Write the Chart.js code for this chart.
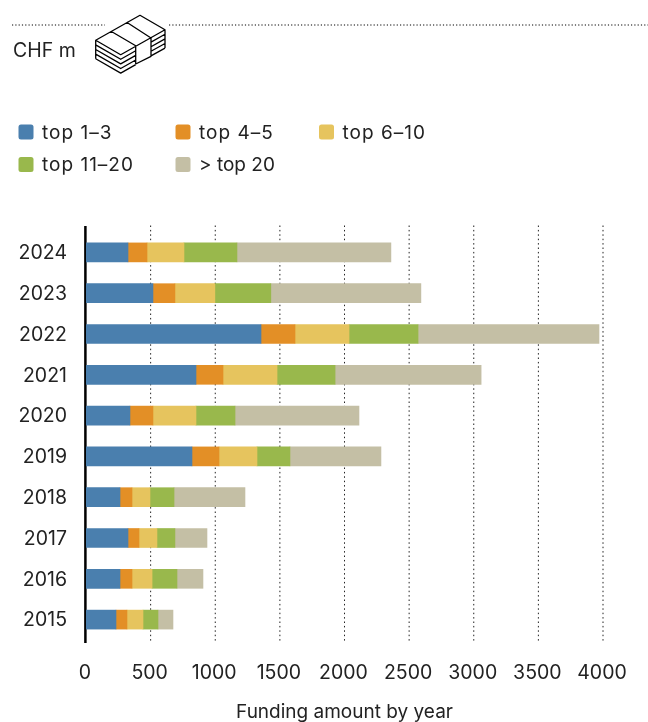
<!DOCTYPE html>
<html>
<head>
<meta charset="utf-8">
<title>Funding amount by year</title>
<script src="https://cdn.jsdelivr.net/npm/chart.js@4/dist/chart.umd.min.js"></script>
<style>
    html, body { margin: 0; padding: 0; background: #fff; }
    canvas { display: block; }
</style>
</head>
<body>
<canvas id="fundingChart" width="648" height="722"></canvas>
<script>
const years = ['2024', '2023', '2022', '2021', '2020', '2019', '2018', '2017', '2016', '2015'];
const top1to3 = [325, 518, 1354, 851, 340, 820, 263, 325, 263, 232];
const top4to5 = [147, 170, 263, 209, 178, 209, 93, 85, 93, 85];
const top6to10 = [286, 309, 418, 418, 333, 294, 139, 139, 155, 124];
const top11to20 = [410, 433, 534, 449, 302, 255, 186, 139, 193, 116];
const overTop20 = [1191, 1161, 1400, 1130, 959, 704, 549, 248, 201, 116];

const seriesNames = ['top 1–3', 'top 4–5', 'top 6–10', 'top 11–20', '> top 20'];
const seriesColors = ['#4a7fae', '#e38f26', '#e6c45e', '#99b84c', '#c4bfa5'];

const unitLabel = 'CHF m';
const axisTitle = 'Funding amount by year';

const textColor = '#222222';
const fontFamily = 'Inter, sans-serif';

const allSeries = [top1to3, top4to5, top6to10, top11to20, overTop20];

// Titre, légende et icône sont dessinés à la main : la légende native n'aligne pas les colonnes
const headerPlugin = {
    id: 'headerPlugin',
    beforeDraw(chart) {
        const ctx = chart.ctx;
        ctx.save();

        // ligne pointillée du haut
        ctx.strokeStyle = '#000';
        ctx.lineWidth = 1;
        ctx.setLineDash([1.2, 2.1]);
        ctx.beginPath();
        ctx.moveTo(12, 25);
        ctx.lineTo(105, 25);
        ctx.moveTo(169, 25);
        ctx.lineTo(648, 25);
        ctx.stroke();
        ctx.setLineDash([]);

        // unité
        ctx.fillStyle = textColor;
        ctx.font = '19.5px ' + fontFamily;
        ctx.textBaseline = 'middle';
        ctx.fillText(unitLabel, 13, 51);

        // icône liasse de billets
        ctx.strokeStyle = '#000';
        ctx.lineWidth = 1.3;
        ctx.lineJoin = 'round';
        ctx.beginPath();
        ctx.moveTo(95.7, 40.3);
        ctx.lineTo(120.7, 54.7);
        ctx.lineTo(165, 29.7);
        ctx.lineTo(140, 15.3);
        ctx.closePath();
        ctx.moveTo(111, 31.3);
        ctx.lineTo(135.7, 45.7);
        ctx.lineTo(135.7, 64);
        ctx.moveTo(126.7, 22.3);
        ctx.lineTo(151, 38);
        ctx.lineTo(151, 56.3);
        ctx.lineTo(135.7, 64);
        for (let i = 1; i <= 4; i++) {
            const dy = i * 4.6;
            ctx.moveTo(95.7, 40.3 + dy);
            ctx.lineTo(120.7, 54.7 + dy);
            ctx.lineTo(135.7, 45.7 + dy + 0.5);
            ctx.moveTo(151, 38 + dy - 0.5);
            ctx.lineTo(165, 29.7 + dy);
        }
        ctx.moveTo(95.7, 40.3);
        ctx.lineTo(95.7, 58.7);
        ctx.moveTo(165, 29.7);
        ctx.lineTo(165, 48);
        ctx.stroke();

        // légende
        const legendX = [18.5, 175.5, 319];
        const legendY = [124.5, 157];
        ctx.font = '19px ' + fontFamily;
        seriesNames.forEach((name, i) => {
            const x = legendX[i % 3];
            const y = legendY[Math.floor(i / 3)];
            ctx.fillStyle = seriesColors[i];
            ctx.beginPath();
            ctx.roundRect(x, y, 15, 15, 2.5);
            ctx.fill();
            ctx.fillStyle = textColor;
            // le tiret est plus aéré dans l'original
            ctx.letterSpacing = name.includes('–') ? '1px' : '0px';
            ctx.fillText(name, x + 23.5, y + 8.5);
        });
        ctx.letterSpacing = '0px';

        ctx.restore();
    },
    // grille pointillée et axe, plus longs que la zone du graphique
    beforeDatasetsDraw(chart) {
        const ctx = chart.ctx;
        const xScale = chart.scales.x;
        const top = chart.chartArea.top;
        const bottom = chart.chartArea.bottom;
        ctx.save();
        ctx.strokeStyle = '#222';
        ctx.lineWidth = 1;
        ctx.setLineDash([1.5, 2.9]);
        xScale.ticks.forEach((tick) => {
            if (tick.value === 0) return;
            const x = xScale.getPixelForValue(tick.value);
            ctx.beginPath();
            ctx.moveTo(x, top - 6.5);
            ctx.lineTo(x, bottom + 1.5);
            ctx.stroke();
        });
        ctx.setLineDash([]);
        ctx.strokeStyle = '#000';
        ctx.lineWidth = 2.5;
        const x0 = xScale.getPixelForValue(0) - 0.6;
        ctx.beginPath();
        ctx.moveTo(x0, top - 6);
        ctx.lineTo(x0, bottom + 3);
        ctx.stroke();
        ctx.restore();
    },
};

new Chart(document.getElementById('fundingChart').getContext('2d'), {
    type: 'bar',
    data: {
        labels: years,
        datasets: allSeries.map((values, i) => ({
            label: seriesNames[i],
            data: values,
            backgroundColor: seriesColors[i],
            borderWidth: 0,
            barThickness: 19,
        })),
    },
    options: {
        indexAxis: 'y',
        responsive: false,
        animation: false,
        layout: {
            padding: { top: 232, right: 45, left: 0, bottom: 0 },
        },
        plugins: {
            legend: { display: false },
            tooltip: { enabled: false },
        },
        scales: {
            x: {
                stacked: true,
                min: 0,
                max: 4000,
                grid: { display: false },
                border: { display: false },
                ticks: {
                    stepSize: 500,
                    maxRotation: 0,
                    autoSkip: false,
                    color: textColor,
                    font: { family: fontFamily, size: 19.5 },
                    padding: 13,
                    labelOffset: -1,
                    callback: (value) => String(value),
                },
                title: {
                    display: true,
                    text: axisTitle,
                    color: textColor,
                    font: { family: fontFamily, size: 19 },
                    padding: { top: 0, bottom: -2 },
                },
                afterFit(scale) {
                    scale.height = 82;
                },
            },
            y: {
                stacked: true,
                grid: { display: false },
                border: { display: false },
                ticks: {
                    color: textColor,
                    font: { family: fontFamily, size: 19.5 },
                    padding: 11,
                    labelOffset: 1,
                },
                afterFit(scale) {
                    scale.width = 86;
                },
            },
        },
    },
    plugins: [headerPlugin],
});
</script>
</body>
</html>
